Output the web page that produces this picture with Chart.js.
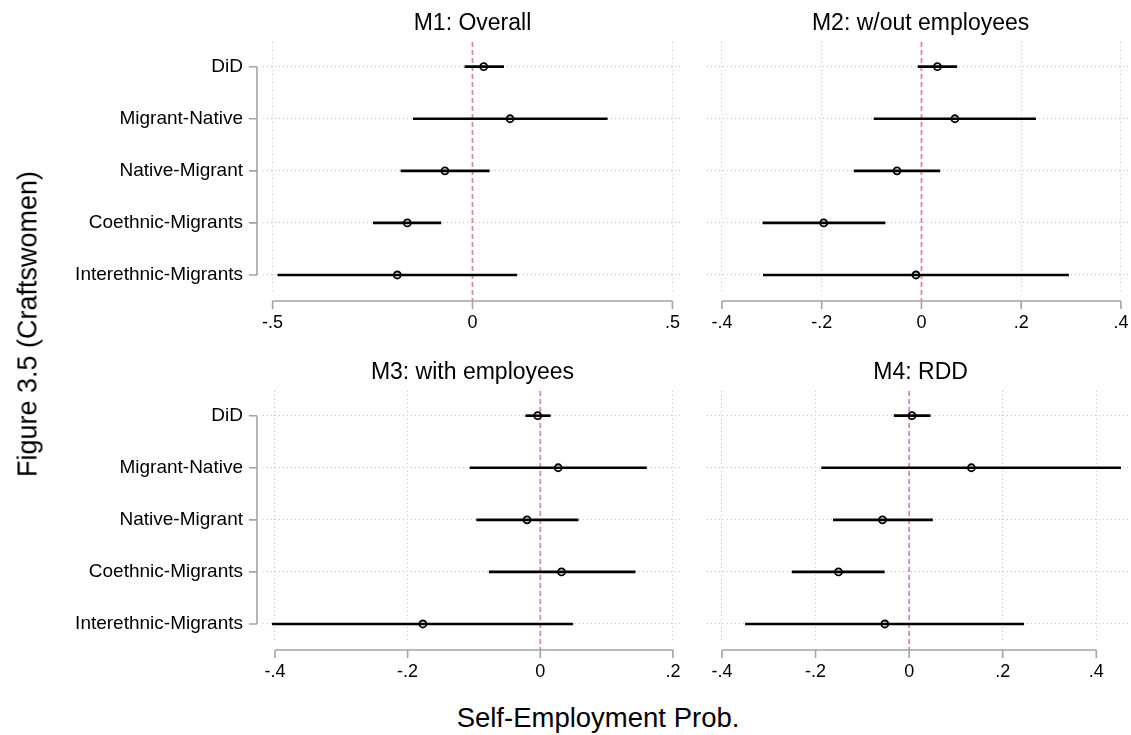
<!DOCTYPE html>
<html>
<head>
<meta charset="utf-8">
<title>Figure 3.5 (Craftswomen)</title>
<script src="https://cdn.jsdelivr.net/npm/chart.js@4.4.0/dist/chart.umd.min.js"></script>
<style>
  body { margin: 0; background: #fff; width: 1131px; height: 735px; overflow: hidden; position: relative;
         font-family: "Liberation Sans", Arial, Helvetica, sans-serif; color: #000; }
  canvas { position: absolute; }
  #ylab { position: absolute; left: 28px; top: 324px; transform: translate(-50%, -50%) rotate(-90deg);
          font-size: 27px; white-space: nowrap; }
  #xlab { position: absolute; left: 598px; top: 718px; transform: translate(-50%, -50%);
          font-size: 27.5px; white-space: nowrap; }
</style>
</head>
<body>
<canvas id="m1" width="690" height="345" style="left:0;top:0"></canvas>
<canvas id="m2" width="450" height="345" style="left:690px;top:0"></canvas>
<canvas id="m3" width="690" height="345" style="left:0;top:349px"></canvas>
<canvas id="m4" width="450" height="345" style="left:690px;top:349px"></canvas>
<div id="ylab">Figure 3.5 (Craftswomen)</div>
<div id="xlab">Self-Employment Prob.</div>

<script>
// Coefficient rows (top to bottom)
const categories = ['DiD', 'Migrant-Native', 'Native-Migrant', 'Coethnic-Migrants', 'Interethnic-Migrants'];

// M1: Overall
const m1Est = [0.028, 0.094, -0.069, -0.163, -0.188];
const m1Lo  = [-0.019, -0.148, -0.179, -0.248, -0.487];
const m1Hi  = [0.078, 0.337, 0.042, -0.079, 0.111];

// M2: w/out employees
const m2Est = [0.032, 0.067, -0.049, -0.196, -0.011];
const m2Lo  = [-0.007, -0.095, -0.135, -0.318, -0.317];
const m2Hi  = [0.071, 0.229, 0.037, -0.073, 0.295];

// M3: with employees
const m3Est = [-0.004, 0.027, -0.020, 0.032, -0.177];
const m3Lo  = [-0.022, -0.106, -0.096, -0.077, -0.404];
const m3Hi  = [0.015, 0.160, 0.057, 0.143, 0.049];

// M4: RDD
const m4Est = [0.006, 0.133, -0.057, -0.151, -0.052];
const m4Lo  = [-0.032, -0.187, -0.162, -0.250, -0.350];
const m4Hi  = [0.045, 0.452, 0.050, -0.053, 0.245];

// x tick values per panel
const m1Ticks = [-0.5, 0, 0.5];
const m2Ticks = [-0.4, -0.2, 0, 0.2, 0.4];
const m3Ticks = [-0.4, -0.2, 0, 0.2];
const m4Ticks = [-0.4, -0.2, 0, 0.2, 0.4];

const FONT = '"Liberation Sans", Arial, Helvetica, sans-serif';
const GRID = '#c6c6c6';
const AXIS = '#a4a4a4';
const PINK = '#dc84b8';
const NONE = 'rgba(0,0,0,0)';

// Stata style: labels like -.5, .2, 0
function stataLabel(v) {
    if (Math.abs(v) < 1e-9) return '0';
    return (v < 0 ? '-' : '') + String(Math.abs(v)).replace(/^0/, '');
}

// zero line + axis lines that only span the tick range
const stataAxes = {
    id: 'stataAxes',
    beforeDatasetsDraw(chart) {
        const {ctx, chartArea, scales: {x}} = chart;
        const x0 = x.getPixelForValue(0);
        ctx.save();
        ctx.strokeStyle = PINK;
        ctx.lineWidth = 1.8;
        ctx.setLineDash([5, 3]);
        ctx.beginPath();
        ctx.moveTo(x0, chartArea.top);
        ctx.lineTo(x0, chartArea.bottom + 8);
        ctx.stroke();
        ctx.restore();
    },
    afterDraw(chart) {
        const {ctx, chartArea, scales: {x, y}} = chart;
        const xt = x.ticks.map(t => x.getPixelForValue(t.value));
        const ay = chartArea.bottom + 8;
        ctx.save();
        ctx.strokeStyle = AXIS;
        ctx.lineWidth = 1.6;
        ctx.beginPath();
        ctx.moveTo(xt[0], ay);
        ctx.lineTo(xt[xt.length - 1], ay);
        xt.forEach(px => { ctx.moveTo(px, ay); ctx.lineTo(px, ay + 8); });
        if (y.options.ticks.display) {
            const yt = y.ticks.map(t => y.getPixelForValue(t.value));
            const ax = chartArea.left - 6;
            ctx.moveTo(ax, yt[0]);
            ctx.lineTo(ax, yt[yt.length - 1]);
            yt.forEach(py => { ctx.moveTo(ax, py); ctx.lineTo(ax - 8, py); });
        }
        ctx.stroke();
        ctx.restore();
    }
};

function makePanel(id, title, est, lo, hi, ticks, xMin, xMax, showLabels) {
    const ciData = categories.map((c, i) => ({x: [lo[i], hi[i]], y: i}));
    const ptData = categories.map((c, i) => ({x: est[i], y: i}));

    return new Chart(document.getElementById(id), {
        type: 'bar',
        data: {
            datasets: [
                {
                    data: ciData,
                    backgroundColor: '#000',
                    borderWidth: 0,
                    barThickness: 2
                },
                {
                    type: 'line',
                    data: ptData,
                    showLine: false,
                    pointRadius: 3.5,
                    pointBorderWidth: 1.8,
                    pointBorderColor: '#000',
                    pointBackgroundColor: '#fff'
                }
            ]
        },
        options: {
            indexAxis: 'y',
            responsive: false,
            animation: false,
            events: [],
            layout: {padding: {top: 10, right: showLabels ? 8 : 4, bottom: 0, left: 0}},
            plugins: {
                legend: {display: false},
                tooltip: {enabled: false},
                title: {
                    display: true,
                    text: title,
                    fullSize: false,
                    color: '#000',
                    font: {family: FONT, size: 23, weight: 'normal'},
                    padding: {top: 0, bottom: 4.4}
                }
            },
            scales: {
                x: {
                    type: 'linear',
                    min: xMin,
                    max: xMax,
                    offset: false,
                    afterBuildTicks: s => { s.ticks = ticks.map(v => ({value: v})); },
                    afterFit: s => { s.height = 52; },
                    grid: {
                        color: c => (c.tick && Math.abs(c.tick.value) < 1e-9) ? NONE : GRID,
                        lineWidth: 1,
                        drawTicks: true,
                        tickLength: 19,
                        tickColor: NONE
                    },
                    border: {display: false, dash: [1, 3]},
                    ticks: {
                        autoSkip: false,
                        maxRotation: 0,
                        padding: 0,
                        color: '#000',
                        font: {family: FONT, size: 18},
                        callback: v => stataLabel(v)
                    }
                },
                y: {
                    type: 'linear',
                    reverse: true,
                    offset: false,
                    min: -0.474,
                    max: 4.346,
                    afterBuildTicks: s => { s.ticks = categories.map((c, i) => ({value: i})); },
                    afterFit: s => { s.width = showLabels ? 263 : 17; },
                    grid: {
                        offset: false,
                        color: GRID,
                        lineWidth: 1,
                        drawTicks: true,
                        tickLength: 20,
                        tickColor: NONE
                    },
                    border: {display: false, dash: [1, 3]},
                    ticks: {
                        display: showLabels,
                        autoSkip: false,
                        padding: 0,
                        color: '#000',
                        font: {family: FONT, size: 19},
                        callback: v => categories[v]
                    }
                }
            }
        },
        plugins: [stataAxes]
    });
}

makePanel('m1', 'M1: Overall', m1Est, m1Lo, m1Hi, m1Ticks, -0.524, 0.524, true);
makePanel('m2', 'M2: w/out employees', m2Est, m2Lo, m2Hi, m2Ticks, -0.430, 0.4266, false);
makePanel('m3', 'M3: with employees', m3Est, m3Lo, m3Hi, m3Ticks, -0.418, 0.2136, true);
makePanel('m4', 'M4: RDD', m4Est, m4Lo, m4Hi, m4Ticks, -0.432, 0.481, false);
</script>
</body>
</html>
